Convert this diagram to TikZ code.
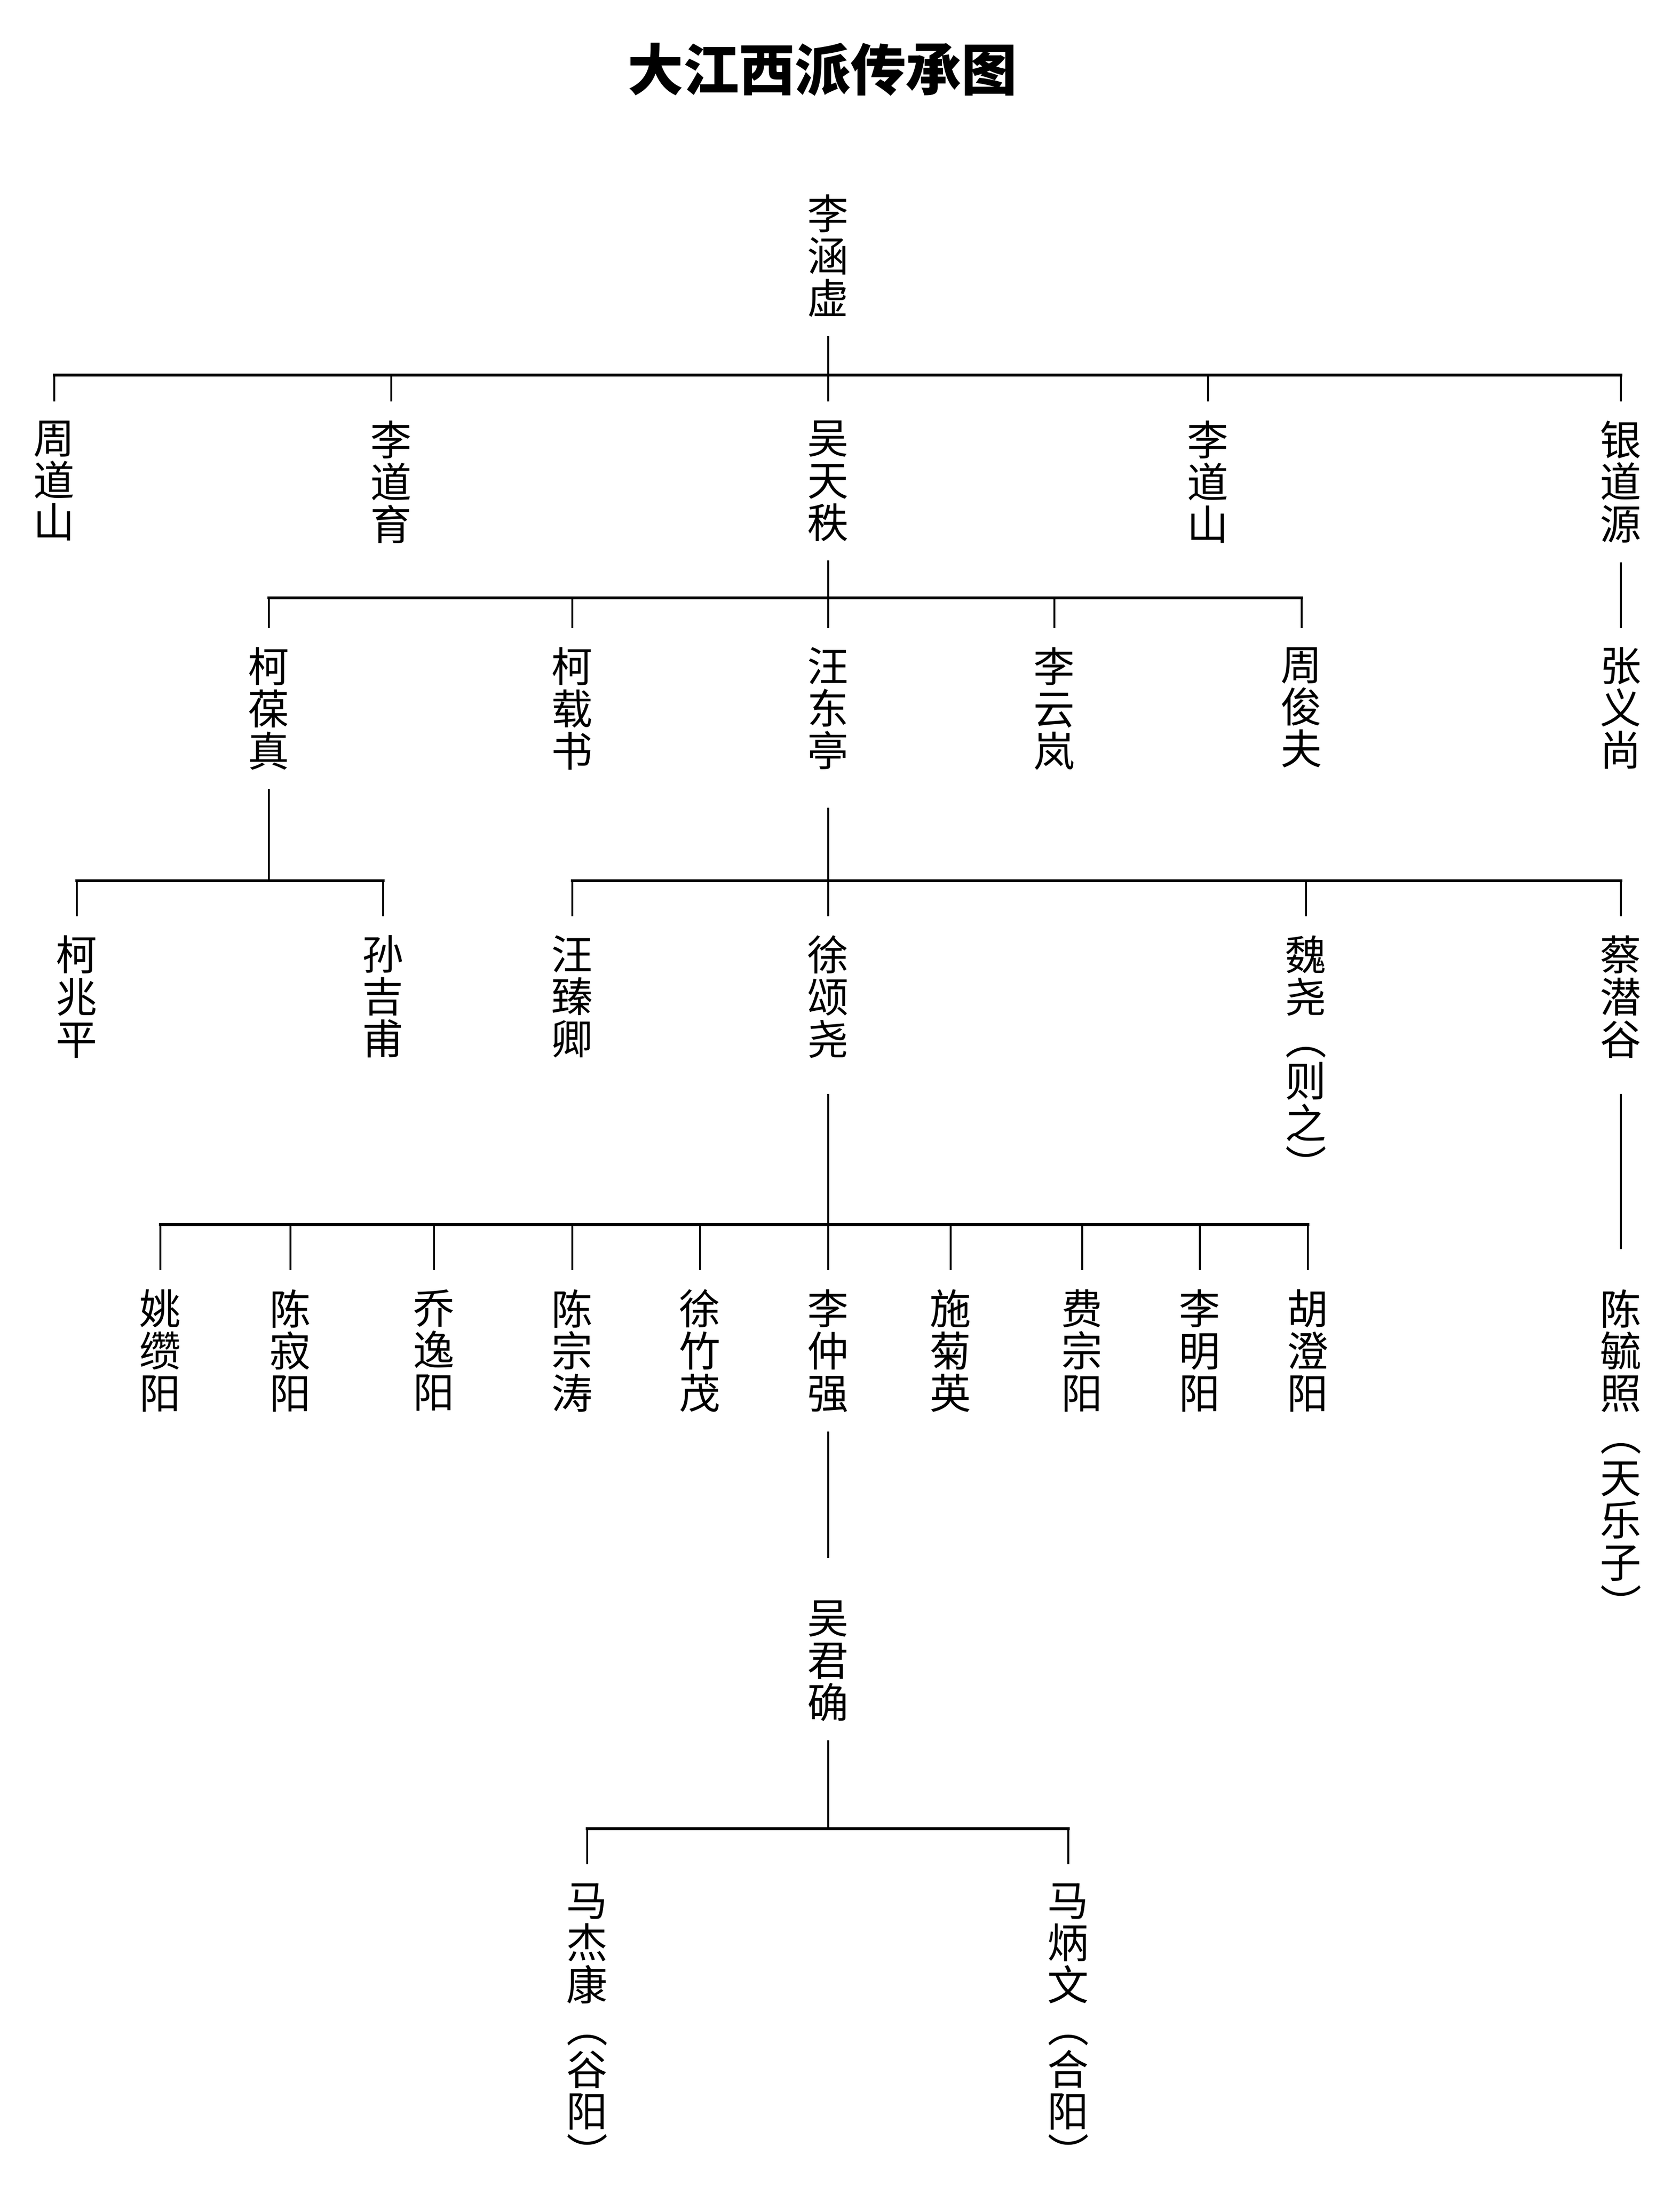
\documentclass[tikz,border=0pt]{standalone}
\usepackage{fontspec}
\usepackage{graphicx}
\usetikzlibrary{positioning,calc}
\newfontfamily\cjk{Noto Sans CJK SC}
\newcommand{\vpar}[1]{\rotatebox[origin=c]{-90}{#1}}

\begin{document}
\begin{tikzpicture}[xscale=1,yscale=1]
\tikzstyle{trait}=[line width=1.15pt]
\tikzstyle{barre}=[line width=1.7pt,line cap=rect]
\tikzstyle{nom}=[anchor=north,align=center,inner sep=0pt,outer ysep=0.4cm,font=\cjk\fontsize{24.5pt}{25pt}\selectfont]
\tikzstyle{titre}=[inner sep=0pt,font=\cjk\bfseries\fontsize{33pt}{36pt}\selectfont]
\def\DistanceInterNiveaux{1}
\def\DistanceInterFeuilles{1}
\def\NiveauA{(-3.65)*\DistanceInterNiveaux}
\def\NiveauB{(-8.36)*\DistanceInterNiveaux}
\def\NiveauC{(-13.08)*\DistanceInterNiveaux}
\def\NiveauD{(-19.08)*\DistanceInterNiveaux}
\def\NiveauE{(-26.45)*\DistanceInterNiveaux}
\def\NiveauF{(-32.93)*\DistanceInterNiveaux}
\def\NiveauG{(-38.82)*\DistanceInterNiveaux}
\def\InterFeuilles{(1)*\DistanceInterFeuilles}
\useasboundingbox (0,0) rectangle (34.99,-45.52);
\node[titre] (T) at (17.13,-1.45) {大江西派传承图};
\node[nom] (R) at ({(17.25)*\InterFeuilles},{\NiveauA}) {李\\涵\\虚};
\node[nom] (Ra) at ({(1.13)*\InterFeuilles},{\NiveauB}) {周\\道\\山};
\node[nom] (Rb) at ({(8.15)*\InterFeuilles},{\NiveauB}) {李\\道\\育};
\node[nom] (Rc) at ({(17.25)*\InterFeuilles},{\NiveauB}) {吴\\天\\秩};
\node[nom] (Rd) at ({(25.16)*\InterFeuilles},{\NiveauB}) {李\\道\\山};
\node[nom] (Re) at ({(33.76)*\InterFeuilles},{\NiveauB}) {银\\道\\源};
\node[nom] (Rca) at ({(5.60)*\InterFeuilles},{\NiveauC}) {柯\\葆\\真};
\node[nom] (Rcb) at ({(11.92)*\InterFeuilles},{\NiveauC}) {柯\\载\\书};
\node[nom] (Rcc) at ({(17.25)*\InterFeuilles},{\NiveauC}) {汪\\东\\亭};
\node[nom] (Rcd) at ({(21.96)*\InterFeuilles},{\NiveauC}) {李\\云\\岚};
\node[nom] (Rce) at ({(27.11)*\InterFeuilles},{\NiveauC}) {周\\俊\\夫};
\node[nom] (Rea) at ({(33.76)*\InterFeuilles},{\NiveauC}) {张\\义\\尚};
\node[nom] (Rcaa) at ({(1.60)*\InterFeuilles},{\NiveauD}) {柯\\兆\\平};
\node[nom] (Rcab) at ({(7.98)*\InterFeuilles},{\NiveauD}) {孙\\吉\\甫};
\node[nom] (Rcca) at ({(11.92)*\InterFeuilles},{\NiveauD}) {汪\\臻\\卿};
\node[nom] (Rccb) at ({(17.25)*\InterFeuilles},{\NiveauD}) {徐\\颂\\尧};
\node[nom] (Rccc) at ({(27.20)*\InterFeuilles},{\NiveauD}) {魏\\尧\\\vpar{（}\\则\\之\\\vpar{）}};
\node[nom] (Rccd) at ({(33.76)*\InterFeuilles},{\NiveauD}) {蔡\\潜\\谷};
\node[nom] (Rccba) at ({(3.34)*\InterFeuilles},{\NiveauE}) {姚\\缵\\阳};
\node[nom] (Rccbb) at ({(6.05)*\InterFeuilles},{\NiveauE}) {陈\\寂\\阳};
\node[nom] (Rccbc) at ({(9.04)*\InterFeuilles},{\NiveauE}) {乔\\逸\\阳};
\node[nom] (Rccbd) at ({(11.92)*\InterFeuilles},{\NiveauE}) {陈\\宗\\涛};
\node[nom] (Rccbe) at ({(14.58)*\InterFeuilles},{\NiveauE}) {徐\\竹\\茂};
\node[nom] (Rccbf) at ({(17.25)*\InterFeuilles},{\NiveauE}) {李\\仲\\强};
\node[nom] (Rccbg) at ({(19.80)*\InterFeuilles},{\NiveauE}) {施\\菊\\英};
\node[nom] (Rccbh) at ({(22.54)*\InterFeuilles},{\NiveauE}) {费\\宗\\阳};
\node[nom] (Rccbi) at ({(24.99)*\InterFeuilles},{\NiveauE}) {李\\明\\阳};
\node[nom] (Rccbj) at ({(27.24)*\InterFeuilles},{\NiveauE}) {胡\\澄\\阳};
\node[nom] (Rccda) at ({(33.76)*\InterFeuilles},{\NiveauE}) {陈\\毓\\照\\\vpar{（}\\天\\乐\\子\\\vpar{）}};
\node[nom] (Rccbfa) at ({(17.25)*\InterFeuilles},{\NiveauF}) {吴\\君\\确};
\node[nom] (Rccbfaa) at ({(12.23)*\InterFeuilles},{\NiveauG}) {马\\杰\\康\\\vpar{（}\\谷\\阳\\\vpar{）}};
\node[nom] (Rccbfab) at ({(22.25)*\InterFeuilles},{\NiveauG}) {马\\炳\\文\\\vpar{（}\\合\\阳\\\vpar{）}};
\coordinate (BarreA) at (0,-7.81);
\coordinate (BarreB) at (0,-12.45);
\coordinate (BarreC) at (0,-18.34);
\coordinate (BarreE) at (0,-25.50);
\coordinate (BarreG) at (0,-38.08);
% Li Hanxu
\draw[trait] (R.south)--(R.south |- BarreA);
\draw[barre] (Ra.north |- BarreA)--(Re.north |- BarreA);
\draw[trait] (Ra.north |- BarreA)--(Ra.north);
\draw[trait] (Rb.north |- BarreA)--(Rb.north);
\draw[trait] (Rc.north |- BarreA)--(Rc.north);
\draw[trait] (Rd.north |- BarreA)--(Rd.north);
\draw[trait] (Re.north |- BarreA)--(Re.north);
% Wu Tianzhi
\draw[trait] (Rc.south)--(Rc.south |- BarreB);
\draw[barre] (Rca.north |- BarreB)--(Rce.north |- BarreB);
\draw[trait] (Rca.north |- BarreB)--(Rca.north);
\draw[trait] (Rcb.north |- BarreB)--(Rcb.north);
\draw[trait] (Rcc.north |- BarreB)--(Rcc.north);
\draw[trait] (Rcd.north |- BarreB)--(Rcd.north);
\draw[trait] (Rce.north |- BarreB)--(Rce.north);
\draw[trait] (Re.south)--(Rea.north);
% Ke Baozhen
\draw[trait] (Rca.south)--(Rca.south |- BarreC);
\draw[barre] (Rcaa.north |- BarreC)--(Rcab.north |- BarreC);
\draw[trait] (Rcaa.north |- BarreC)--(Rcaa.north);
\draw[trait] (Rcab.north |- BarreC)--(Rcab.north);
% Wang Dongting
\draw[trait] ([yshift=-0.4cm]Rcc.south)--(Rcc.south |- BarreC);
\draw[barre] (Rcca.north |- BarreC)--(Rccd.north |- BarreC);
\draw[trait] (Rcca.north |- BarreC)--(Rcca.north);
\draw[trait] (Rccb.north |- BarreC)--(Rccb.north);
\draw[trait] (Rccc.north |- BarreC)--(Rccc.north);
\draw[trait] (Rccd.north |- BarreC)--(Rccd.north);
% Xu Songyao
\draw[trait] ([yshift=-0.35cm]Rccb.south)--(Rccb.south |- BarreE);
\draw[barre] (Rccba.north |- BarreE)--(Rccbj.north |- BarreE);
\draw[trait] (Rccba.north |- BarreE)--(Rccba.north);
\draw[trait] (Rccbb.north |- BarreE)--(Rccbb.north);
\draw[trait] (Rccbc.north |- BarreE)--(Rccbc.north);
\draw[trait] (Rccbd.north |- BarreE)--(Rccbd.north);
\draw[trait] (Rccbe.north |- BarreE)--(Rccbe.north);
\draw[trait] (Rccbf.north |- BarreE)--(Rccbf.north);
\draw[trait] (Rccbg.north |- BarreE)--(Rccbg.north);
\draw[trait] (Rccbh.north |- BarreE)--(Rccbh.north);
\draw[trait] (Rccbi.north |- BarreE)--(Rccbi.north);
\draw[trait] (Rccbj.north |- BarreE)--(Rccbj.north);
\draw[trait] ([yshift=-0.35cm]Rccd.south)--([yshift=0.44cm]Rccda.north);
% Li Zhongqiang
\draw[trait] (Rccbf.south)--([yshift=0.49cm]Rccbfa.north);
\draw[trait] (Rccbfa.south)--(Rccbfa.south |- BarreG);
\draw[barre] (Rccbfaa.north |- BarreG)--(Rccbfab.north |- BarreG);
\draw[trait] (Rccbfaa.north |- BarreG)--(Rccbfaa.north);
\draw[trait] (Rccbfab.north |- BarreG)--(Rccbfab.north);
\end{tikzpicture}
\end{document}
